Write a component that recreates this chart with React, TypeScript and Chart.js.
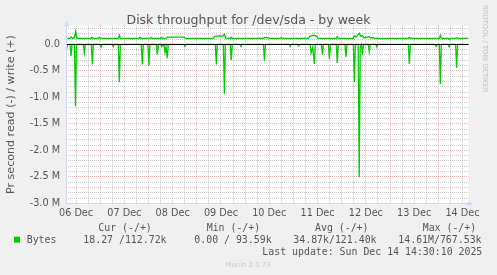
import React, { useEffect, useRef } from 'react';
import { Chart, registerables } from 'chart.js';

Chart.register(...registerables);

// ---- data (x in hours since 06 Dec 00:00, y in MB/s) ----
const titleText = 'Disk throughput for /dev/sda - by week';
const yAxisTitle = 'Pr second read (-) / write (+)';
const dayLabels = ['06 Dec', '07 Dec', '08 Dec', '09 Dec', '10 Dec', '11 Dec', '12 Dec', '13 Dec', '14 Dec'];
const dayLabelHours = [12, 36, 60, 84, 108, 132, 156, 180, 204];
const yTickValues = [0, -0.5, -1.0, -1.5, -2.0, -2.5, -3.0];

const readHours = [
  7.0, 7.7, 9.0, 9.5, 10.0, 11.2, 11.7, 12.2, 15.6, 16.1, 16.6, 19.6, 20.1, 20.6,
  23.9, 24.4, 24.9, 30.0, 30.5, 31.0, 33.0, 33.5, 34.0, 44.4, 44.9, 45.4, 47.7, 48.2, 48.7,
  51.9, 52.4, 52.9, 54.1, 54.6, 55.4, 55.7, 56.2, 56.7, 57.3, 57.8, 65.6, 66.1, 66.6,
  81.2, 81.7, 82.2, 85.2, 85.7, 86.2, 88.6, 89.1, 89.6, 93.5, 94.0, 94.5,
  105.1, 105.6, 106.1, 117.9, 118.4, 118.9, 122.1, 122.6, 123.1,
  128.3, 128.8, 129.6, 130.4, 130.9, 133.9, 134.4, 134.9, 137.4, 137.9, 138.4,
  141.3, 141.8, 142.3, 145.6, 146.1, 146.6, 149.8, 150.3, 150.8,
  152.2, 152.7, 153.2, 153.8, 154.3, 154.8, 157.2, 157.7, 158.2, 160.9, 161.4, 161.9,
  177.1, 177.6, 178.1, 190.4, 190.9, 191.5, 192.5, 193.0, 193.5, 196.9, 197.4, 197.9,
  200.6, 201.1, 201.6, 207.0,
];
const readValues = [
  -0.17, 0, 0, -0.22, 0, 0, -1.17, 0, 0, -0.16, 0, 0, -0.38, 0,
  0, -0.05, 0, 0, -0.04, 0, 0, -0.71, 0, 0, -0.38, 0, 0, -0.40, 0,
  0, -0.19, 0, 0, -0.04, 0, 0, -0.15, -0.04, -0.26, 0, 0, -0.04, 0,
  0, -0.38, 0, 0, -0.93, 0, 0, -0.30, 0, 0, -0.04, 0,
  0, -0.31, 0, 0, -0.04, 0, 0, -0.03, 0,
  0, -0.16, -0.05, -0.37, 0, 0, -0.19, 0, 0, -0.28, 0,
  0, -0.35, 0, 0, -0.24, 0, 0, -0.71, 0,
  0, -2.51, -0.05, 0, -0.19, 0, 0, -0.14, 0, 0, -0.05, 0,
  0, -0.37, 0, 0, -0.04, 0, 0, -0.75, 0, 0, -0.05, 0,
  0, -0.44, 0, 0,
];

const writeHours = [
  7.0, 9.0, 9.6, 10.2, 11.2, 11.8, 12.4, 19.4, 19.9, 20.4, 23.0, 23.5, 24.0,
  33.0, 33.5, 34.0, 43.4, 43.9, 44.4, 48.9, 49.4, 49.9, 53.9, 54.4, 54.9,
  56.7, 57.3, 65.8, 66.3, 80.0, 80.8, 83.5, 84.8, 85.7, 86.3, 88.6, 89.1, 89.6,
  105.2, 105.7, 107.4, 107.9, 113.5, 114.0, 114.5, 127.5, 128.2, 130.0, 131.6, 132.3,
  141.3, 141.8, 142.3, 149.6, 150.3, 151.2, 152.7, 153.5, 154.2, 155.0, 157.7, 158.3, 159.5, 160.2,
  177.1, 177.6, 178.1, 192.5, 193.0, 193.5, 197.0, 197.5, 198.0, 200.6, 201.1, 201.6, 207.0,
];
const writeValues = [
  0.113, 0.113, 0.14, 0.115, 0.12, 0.24, 0.115, 0.113, 0.13, 0.113, 0.113, 0.13, 0.113,
  0.113, 0.17, 0.113, 0.113, 0.13, 0.113, 0.113, 0.13, 0.113, 0.113, 0.13, 0.113,
  0.113, 0.135, 0.135, 0.113, 0.113, 0.15, 0.16, 0.155, 0.19, 0.12, 0.113, 0.13, 0.113,
  0.113, 0.13, 0.125, 0.113, 0.113, 0.125, 0.113, 0.113, 0.15, 0.175, 0.15, 0.113,
  0.113, 0.145, 0.113, 0.113, 0.16, 0.14, 0.21, 0.15, 0.16, 0.125, 0.145, 0.12, 0.125, 0.113,
  0.113, 0.13, 0.113, 0.113, 0.17, 0.113, 0.113, 0.09, 0.113, 0.113, 0.125, 0.113, 0.113,
];

const legendSeries = 'Bytes';
const legendHeaders = ['Cur (-/+)', 'Min (-/+)', 'Avg (-/+)', 'Max (-/+)'];
const legendValues = ['18.27 /112.72k', '0.00 / 93.59k', '34.87k/121.40k', '14.61M/767.53k'];
const lastUpdate = 'Last update: Sun Dec 14 14:30:10 2025';
const versionText = 'Munin 2.0.73';
const watermark = 'RRDTOOL / TOBI OETIKER';

// ---- styles ----
const W = 497;
const H = 275;
const GREEN = '#00CC00';
const TEXT = '#555555';
const BACK = '#F0F0F0';
const MINOR = 'rgba(143,143,143,0.46)';
const MAJOR = 'rgba(222,80,80,0.42)';
const AXIS = '#CFD6F8';
const SANS = '"DejaVu Sans", sans-serif';
const MONO = '"DejaVu Sans Mono", monospace';

const muninPlugin = {
  id: 'munin',
  beforeDraw(chart: any) {
    const { ctx, chartArea: a, scales } = chart;
    const x = scales.x;
    const y = scales.y;
    ctx.save();
    ctx.fillStyle = BACK;
    ctx.fillRect(0, 0, chart.width, chart.height);
    ctx.fillStyle = '#FFFFFF';
    ctx.fillRect(a.left, a.top, a.right - a.left, a.bottom - a.top);
    ctx.lineWidth = 1;
    ctx.setLineDash([1, 1]);
    const drawV = (h: number, color: string) => {
      const px = Math.floor(x.getPixelForValue(h)) + 0.5;
      ctx.strokeStyle = color;
      ctx.beginPath();
      ctx.moveTo(px, a.top);
      ctx.lineTo(px, a.bottom);
      ctx.stroke();
    };
    const drawH = (v: number, color: string) => {
      const py = Math.floor(y.getPixelForValue(v)) + 0.5;
      ctx.strokeStyle = color;
      ctx.beginPath();
      ctx.moveTo(a.left, py);
      ctx.lineTo(a.right, py);
      ctx.stroke();
    };
    for (let h = Math.ceil(x.min / 6) * 6; h <= x.max; h += 6) if (h % 24 !== 0) drawV(h, MINOR);
    for (let i = -30; i <= 3; i++) if (i % 5 !== 0) drawH(i / 10, MINOR);
    for (let h = Math.ceil(x.min / 24) * 24; h <= x.max; h += 24) drawV(h, MAJOR);
    for (let i = -30; i <= 0; i += 5) drawH(i / 10, MAJOR);
    ctx.restore();
  },
  afterDatasetsDraw(chart: any) {
    const { ctx, chartArea: a, scales } = chart;
    const y = scales.y;
    ctx.save();
    ctx.setLineDash([]);
    ctx.lineWidth = 1;
    // zero line
    const y0 = Math.floor(y.getPixelForValue(0)) + 0.5;
    ctx.strokeStyle = '#000000';
    ctx.beginPath();
    ctx.moveTo(a.left, y0);
    ctx.lineTo(a.right, y0);
    ctx.stroke();
    // axes
    const lx = Math.floor(a.left) + 0.5;
    const by = Math.floor(a.bottom) + 0.5;
    ctx.strokeStyle = AXIS;
    ctx.beginPath();
    ctx.moveTo(lx, by);
    ctx.lineTo(lx, a.top - 2);
    ctx.moveTo(lx, by);
    ctx.lineTo(a.right + 1, by);
    ctx.stroke();
    ctx.fillStyle = AXIS;
    ctx.beginPath();
    ctx.moveTo(lx, a.top - 4.5);
    ctx.lineTo(lx - 2.5, a.top + 0.5);
    ctx.lineTo(lx + 2.5, a.top + 0.5);
    ctx.closePath();
    ctx.fill();
    ctx.beginPath();
    ctx.moveTo(a.right + 4.5, by);
    ctx.lineTo(a.right - 0.5, by - 2.5);
    ctx.lineTo(a.right - 0.5, by + 2.5);
    ctx.closePath();
    ctx.fill();
    ctx.restore();
  },
  afterDraw(chart: any) {
    const { ctx } = chart;
    ctx.save();
    ctx.fillStyle = TEXT;
    ctx.textBaseline = 'alphabetic';
    ctx.textAlign = 'center';
    ctx.font = `12.5px ${SANS}`;
    ctx.fillText(titleText, 248.5, 23.5);

    ctx.textAlign = 'left';
    ctx.font = `9.9px ${MONO}`;
    const headerX = [98.3, 206.7, 315, 422.7];
    const valueX = [83.3, 194.3, 293.3, 398.3];
    legendHeaders.forEach((t, i) => ctx.fillText(t, headerX[i], 231));
    ctx.fillText(legendSeries, 26.7, 243);
    legendValues.forEach((t, i) => ctx.fillText(t, valueX[i], 243));
    ctx.textAlign = 'right';
    ctx.fillText(lastUpdate, 482.3, 255);
    ctx.fillStyle = GREEN;
    ctx.fillRect(14, 236.7, 6, 6);

    ctx.fillStyle = '#C8C8C8';
    ctx.textAlign = 'center';
    ctx.font = `6.9px ${SANS}`;
    ctx.fillText(versionText, 248, 266.5);

    ctx.translate(484.7, 5);
    ctx.rotate(Math.PI / 2);
    ctx.textAlign = 'left';
    ctx.textBaseline = 'middle';
    ctx.fillStyle = '#C0C0C0';
    ctx.font = `6.8px ${SANS}`;
    ctx.fillText(watermark, 0, 0);
    ctx.restore();
  },
};

export default function App() {
  const ref = useRef<HTMLCanvasElement | null>(null);

  useEffect(() => {
    document.body.style.margin = '0';
    document.body.style.background = BACK;
    const canvas = ref.current;
    if (!canvas) return;
    const chart = new Chart(canvas, {
      type: 'line',
      data: {
        datasets: [
          {
            label: 'read',
            data: readHours.map((h, i) => ({ x: h, y: readValues[i] })),
            borderColor: GREEN,
            borderWidth: 1.3,
            pointRadius: 0,
            tension: 0,
            fill: false,
          },
          {
            label: 'write',
            data: writeHours.map((h, i) => ({ x: h, y: writeValues[i] })),
            borderColor: GREEN,
            borderWidth: 1.3,
            pointRadius: 0,
            tension: 0,
            fill: false,
          },
        ],
      },
      plugins: [muninPlugin],
      options: {
        animation: false,
        responsive: false,
        devicePixelRatio: 1,
        layout: { padding: { top: 25.8, right: 28.5, left: 0, bottom: 0 } },
        plugins: { legend: { display: false }, tooltip: { enabled: false }, title: { display: false } },
        scales: {
          x: {
            type: 'linear',
            min: 7,
            max: 207,
            grid: { display: false, drawTicks: false },
            border: { display: false },
            afterBuildTicks: (s: any) => {
              s.ticks = dayLabelHours.map((v) => ({ value: v }));
            },
            afterFit: (s: any) => {
              s.height = 71.7;
            },
            ticks: {
              autoSkip: false,
              maxRotation: 0,
              minRotation: 0,
              padding: 4,
              color: TEXT,
              font: { family: 'DejaVu Sans', size: 9.7 },
              callback: (_v: any, i: number) => dayLabels[i],
            },
          },
          y: {
            type: 'linear',
            min: -3.0,
            max: 0.35,
            grid: { display: false, drawTicks: false },
            border: { display: false },
            afterBuildTicks: (s: any) => {
              s.ticks = yTickValues.map((v) => ({ value: v }));
            },
            afterFit: (s: any) => {
              s.width = 66;
            },
            title: {
              display: true,
              text: yAxisTitle,
              color: TEXT,
              font: { family: 'DejaVu Sans', size: 11.1 },
              padding: { top: 4.5, bottom: 0 },
            },
            ticks: {
              padding: 6,
              color: TEXT,
              font: { family: 'DejaVu Sans', size: 9.7 },
              callback: (v: any) => (v === 0 ? '0.0' : `${Number(v).toFixed(1)} M`),
            },
          },
        },
      },
    });
    return () => chart.destroy();
  }, []);

  return (
    <div style={{ width: W, height: H, background: BACK }}>
      <canvas ref={ref} width={W} height={H} style={{ display: 'block', width: W, height: H }} />
    </div>
  );
}
